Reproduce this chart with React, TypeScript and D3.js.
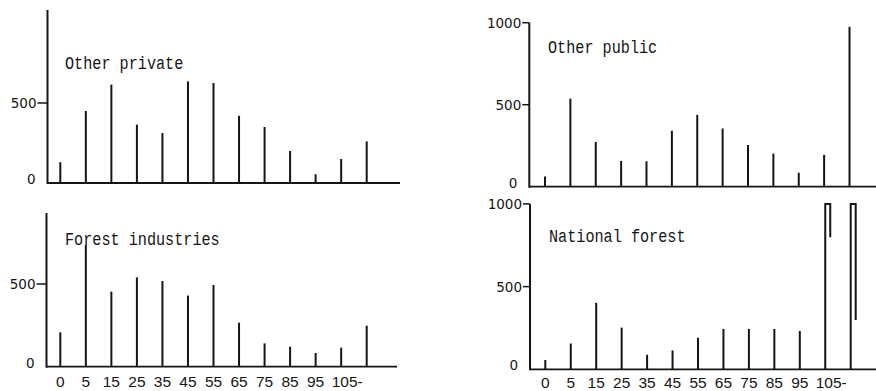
import { useEffect, useRef } from "react";
import * as d3 from "d3";

// age classes (years); the last bar has no label of its own
const ageClasses = ["0", "5", "15", "25", "35", "45", "55", "65", "75", "85", "95", "105-", ""];

const otherPrivate = [130, 450, 615, 365, 312, 635, 625, 420, 350, 200, 55, 150, 260];
const forestIndustries = [208, 736, 454, 540, 518, 430, 494, 266, 141, 121, 83, 115, 248];
const otherPublic = [62, 537, 273, 157, 155, 341, 438, 355, 254, 202, 85, 194, 975];
const nationalForest = [56, 156, 402, 252, 88, 114, 190, 244, 244, 244, 232, 1200, 1700];

const leftTicks = [0, 500];
const rightTicks = [0, 500, 1000];

type Panel = {
  title: string;
  values: number[];
  ticks: number[];
  axisX: number;
  axisTop: number;
  baseY: number;
  y500: number;
  bars: [number, number];
  baseEnd: number;
  titleAt: [number, number];
  xLabels?: number;
  tickLen: number;
};

const panels: Panel[] = [
  {
    title: "Other private",
    values: otherPrivate,
    ticks: leftTicks,
    axisX: 47.5,
    axisTop: 10,
    baseY: 183,
    y500: 103,
    bars: [60.3, 366.7],
    baseEnd: 400,
    titleAt: [65, 69],
    tickLen: 10,
  },
  {
    title: "Forest industries",
    values: forestIndustries,
    ticks: leftTicks,
    axisX: 46.5,
    axisTop: 213,
    baseY: 366.7,
    y500: 284,
    bars: [60.3, 366.7],
    baseEnd: 397,
    titleAt: [65, 245],
    xLabels: 387,
    tickLen: 10,
  },
  {
    title: "Other public",
    values: otherPublic,
    ticks: rightTicks,
    axisX: 529.3,
    axisTop: 22.7,
    baseY: 186.7,
    y500: 104.7,
    bars: [545, 849.5],
    baseEnd: 876,
    titleAt: [548, 53],
    tickLen: 7,
  },
  {
    title: "National forest",
    values: nationalForest,
    ticks: rightTicks,
    axisX: 530,
    axisTop: 204,
    baseY: 369.3,
    y500: 286.6,
    bars: [545.3, 850.7],
    baseEnd: 876,
    titleAt: [549, 242],
    xLabels: 388,
    tickLen: 7,
  },
];

const ink = "#151515";

const AgeClassCharts = () => {
  const svgRef = useRef<SVGSVGElement | null>(null);

  useEffect(() => {
    if (!svgRef.current) return;
    const svg = d3.select(svgRef.current);
    svg.selectAll("*").remove();

    panels.forEach((p) => {
      const g = svg.append("g");
      const x = d3.scalePoint<string>().domain(ageClasses.map((_, i) => String(i))).range(p.bars);
      const y = d3.scaleLinear().domain([0, 500]).range([p.baseY, p.y500]);
      // anything taller than the drawn axis gets folded back down
      const cap = Math.round(y.invert(p.axisTop));

      // baseline and y axis
      g.append("line")
        .attr("x1", p.axisX)
        .attr("x2", p.baseEnd)
        .attr("y1", p.baseY)
        .attr("y2", p.baseY)
        .attr("stroke", ink)
        .attr("stroke-width", 1.8);
      g.append("line")
        .attr("x1", p.axisX)
        .attr("x2", p.axisX)
        .attr("y1", p.axisTop)
        .attr("y2", p.baseY + 1)
        .attr("stroke", ink)
        .attr("stroke-width", 2);

      p.ticks.forEach((t) => {
        if (t > 0) {
          g.append("line")
            .attr("x1", p.axisX - p.tickLen)
            .attr("x2", p.axisX)
            .attr("y1", y(t))
            .attr("y2", y(t))
            .attr("stroke", ink)
            .attr("stroke-width", 1.5);
        }
        g.append("text")
          .attr("x", t > 0 ? p.axisX - p.tickLen - 1 : p.axisX - 12)
          .attr("y", y(t) + (t > 0 ? 5 : 1))
          .attr("text-anchor", "end")
          .attr("font-family", "DejaVu Sans")
          .attr("font-size", 13.5)
          .attr("fill", ink)
          .text(String(t));
      });

      // spikes; a value past the top of the axis is folded back down
      p.values.forEach((v, i) => {
        const cx = x(String(i)) as number;
        let d = `M${cx},${p.baseY}L${cx},${y(Math.min(v, cap))}`;
        if (v > cap) d += `L${cx + 5},${y(cap)}L${cx + 5},${y(2 * cap - v)}`;
        g.append("path")
          .attr("d", d)
          .attr("fill", "none")
          .attr("stroke", ink)
          .attr("stroke-width", 2);
      });

      g.append("text")
        .attr("x", p.titleAt[0])
        .attr("y", p.titleAt[1])
        .attr("font-family", "Liberation Mono")
        .attr("font-size", 17.5)
        .attr("textLength", p.title.length * 9.1)
        .attr("lengthAdjust", "spacingAndGlyphs")
        .attr("fill", ink)
        .text(p.title);

      if (p.xLabels) {
        ageClasses.forEach((lab, i) => {
          if (!lab) return;
          g.append("text")
            .attr("x", (x(String(i)) as number) + (lab === "105-" ? 6 : 0))
            .attr("y", p.xLabels as number)
            .attr("text-anchor", "middle")
            .attr("font-family", "Liberation Sans Narrow, Liberation Sans")
            .attr("font-size", 15.5)
            .attr("fill", ink)
            .text(lab);
        });
      }
    });
  }, []);

  return (
    <svg
      ref={svgRef}
      width={876}
      height={391}
      style={{ position: "absolute", left: 0, top: 0, background: "#fff" }}
    />
  );
};

export default function App() {
  return <AgeClassCharts />;
}
